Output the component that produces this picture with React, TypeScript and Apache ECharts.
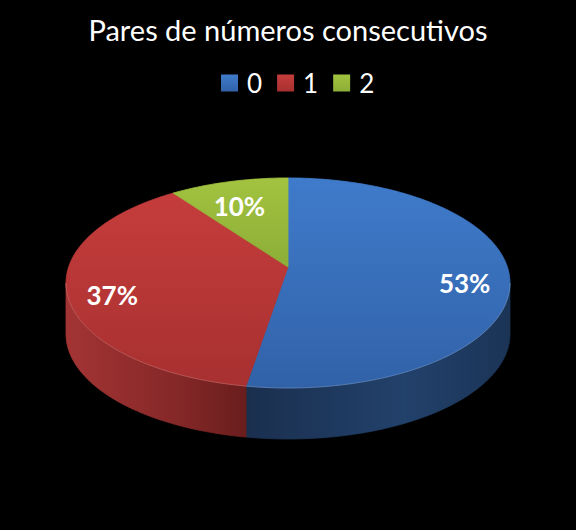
import { useRef, useEffect } from 'react'
import * as echarts from 'echarts'

const categories = ['0', '1', '2'];
const values = [52.6, 37.4, 10.0];

// colours per slice: top face [light, dark], side face stops
const topColors = [
  ['#3f7bcb', '#3162a8'],
  ['#c53d3c', '#a83030'],
  ['#a2c240', '#8dae37'],
];
const sideColors = [
  ['#1a2f4e', '#22416b', '#1b3456'],
  ['#a33434', '#862828', '#6a1d1d'],
  ['#7a9430', '#6a822a', '#5a7023'],
];

// projected disc: apex, half axes, perspective factor, thickness
const CX = 288, CY = 267, AX = 219.4, BY = 102.6, PERSP = 0.152, DEPTH = 51;
const FONT = 'Lato, "Open Sans", sans-serif';

const total = values.reduce((a, b) => a + b, 0);
const rad = (d: number) => (d * Math.PI) / 180;
const proj = (deg: number, r = 1, dy = 0) => {
  const s = Math.sin(rad(deg)), c = Math.cos(rad(deg));
  const w = 1 + PERSP * r * s;
  return [CX + (AX * r * c) / w, CY - (BY * r * s) / w + dy];
};
const arc = (from: number, to: number, dy: number) => {
  const n = Math.max(2, Math.ceil(Math.abs(to - from)));
  const pts: number[][] = [];
  for (let i = 0; i <= n; i++) pts.push(proj(from + ((to - from) * i) / n, 1, dy));
  return pts;
};
// silhouette of the disc's side wall
const EDGE = (Math.asin(PERSP) * 180) / Math.PI;

function sliceSeries(i: number) {
  return {
    type: 'custom',
    name: categories[i],
    coordinateSystem: 'none',
    itemStyle: { color: topColors[i][0] },
    data: [values[i]],
    renderItem: (_params: any, api: any) => {
      const v = api.value(0);
      const before = values.slice(0, i).reduce((a, b) => a + b, 0);
      const a0 = 90 - (360 * before) / total;
      const a1 = 90 - (360 * (before + v)) / total;
      const topFill = new echarts.graphic.LinearGradient(0, 0, 0, 1, [
        { offset: 0, color: topColors[i][0] },
        { offset: 1, color: topColors[i][1] },
      ]);
      const sideFill = new echarts.graphic.LinearGradient(0, 0, 1, 0, [
        { offset: 0, color: sideColors[i][0] },
        { offset: 0.6, color: sideColors[i][1] },
        { offset: 1, color: sideColors[i][2] },
      ]);
      const children: any[] = [
        {
          type: 'polygon',
          z2: 10,
          shape: { points: [[CX, CY], ...arc(a0, a1, 0)] },
          style: { fill: topFill, stroke: topFill, lineWidth: 0.8 },
        },
      ];
      // front (visible) part of the side wall
      for (const k of [-1, 0]) {
        const lo = Math.max(a1, -180 + EDGE + 360 * k);
        const hi = Math.min(a0, -EDGE + 360 * k);
        if (hi > lo) {
          children.push({
            type: 'polygon',
            z2: 1,
            shape: { points: [...arc(lo, hi, 0), ...arc(hi, lo, DEPTH)] },
            style: { fill: sideFill, stroke: sideFill, lineWidth: 0.8 },
          });
          children.push({
            type: 'polyline',
            z2: 11,
            shape: { points: arc(lo, hi, 0) },
            style: { stroke: 'rgba(255,255,255,0.18)', lineWidth: 1, fill: 'none' },
          });
        }
      }
      const [lx, ly] = proj((a0 + a1) / 2, 0.8, 9);
      children.push({
        type: 'text',
        z2: 20,
        x: lx,
        y: ly,
        style: {
          text: Math.round((v / total) * 100) + '%',
          fill: '#ffffff',
          font: 'bold 26px ' + FONT,
          align: 'center',
          verticalAlign: 'middle',
        },
      });
      return { type: 'group', children };
    },
  };
}

function App() {
  const chartRef = useRef<HTMLDivElement>(null);

  useEffect(() => {
    if (chartRef.current) {
      const myChart = echarts.init(chartRef.current, null, { renderer: 'svg' });
      const option = {
        animation: false,
        backgroundColor: '#000000',
        title: {
          text: 'Pares de números consecutivos',
          left: 'center',
          top: 10,
          textStyle: { color: '#ffffff', fontSize: 29, fontWeight: 'normal', fontFamily: FONT },
        },
        legend: {
          top: 63,
          left: 216,
          icon: 'rect',
          itemWidth: 17,
          itemHeight: 17,
          itemGap: 15,
          selectedMode: false,
          textStyle: { color: '#ffffff', fontSize: 26, fontFamily: FONT, lineHeight: 30, padding: [0, 0, 0, 4] },
          data: categories.map((c, i) => ({
            name: c,
            itemStyle: {
              color: new echarts.graphic.LinearGradient(0, 0, 0, 1, [
                { offset: 0, color: topColors[i][0] },
                { offset: 1, color: topColors[i][1] },
              ]),
            },
          })),
        },
        series: categories.map((_c, i) => sliceSeries(i)),
      };
      myChart.setOption(option as any);

      const handleResize = () => {
        myChart.resize();
      };
      window.addEventListener('resize', handleResize);

      return () => {
        window.removeEventListener('resize', handleResize);
        myChart.dispose();
      };
    }
  }, []);

  return (
    <div ref={chartRef} style={{ position: 'absolute', left: 0, top: 0, width: '576px', height: '530px' }}></div>
  )
}

export default App
